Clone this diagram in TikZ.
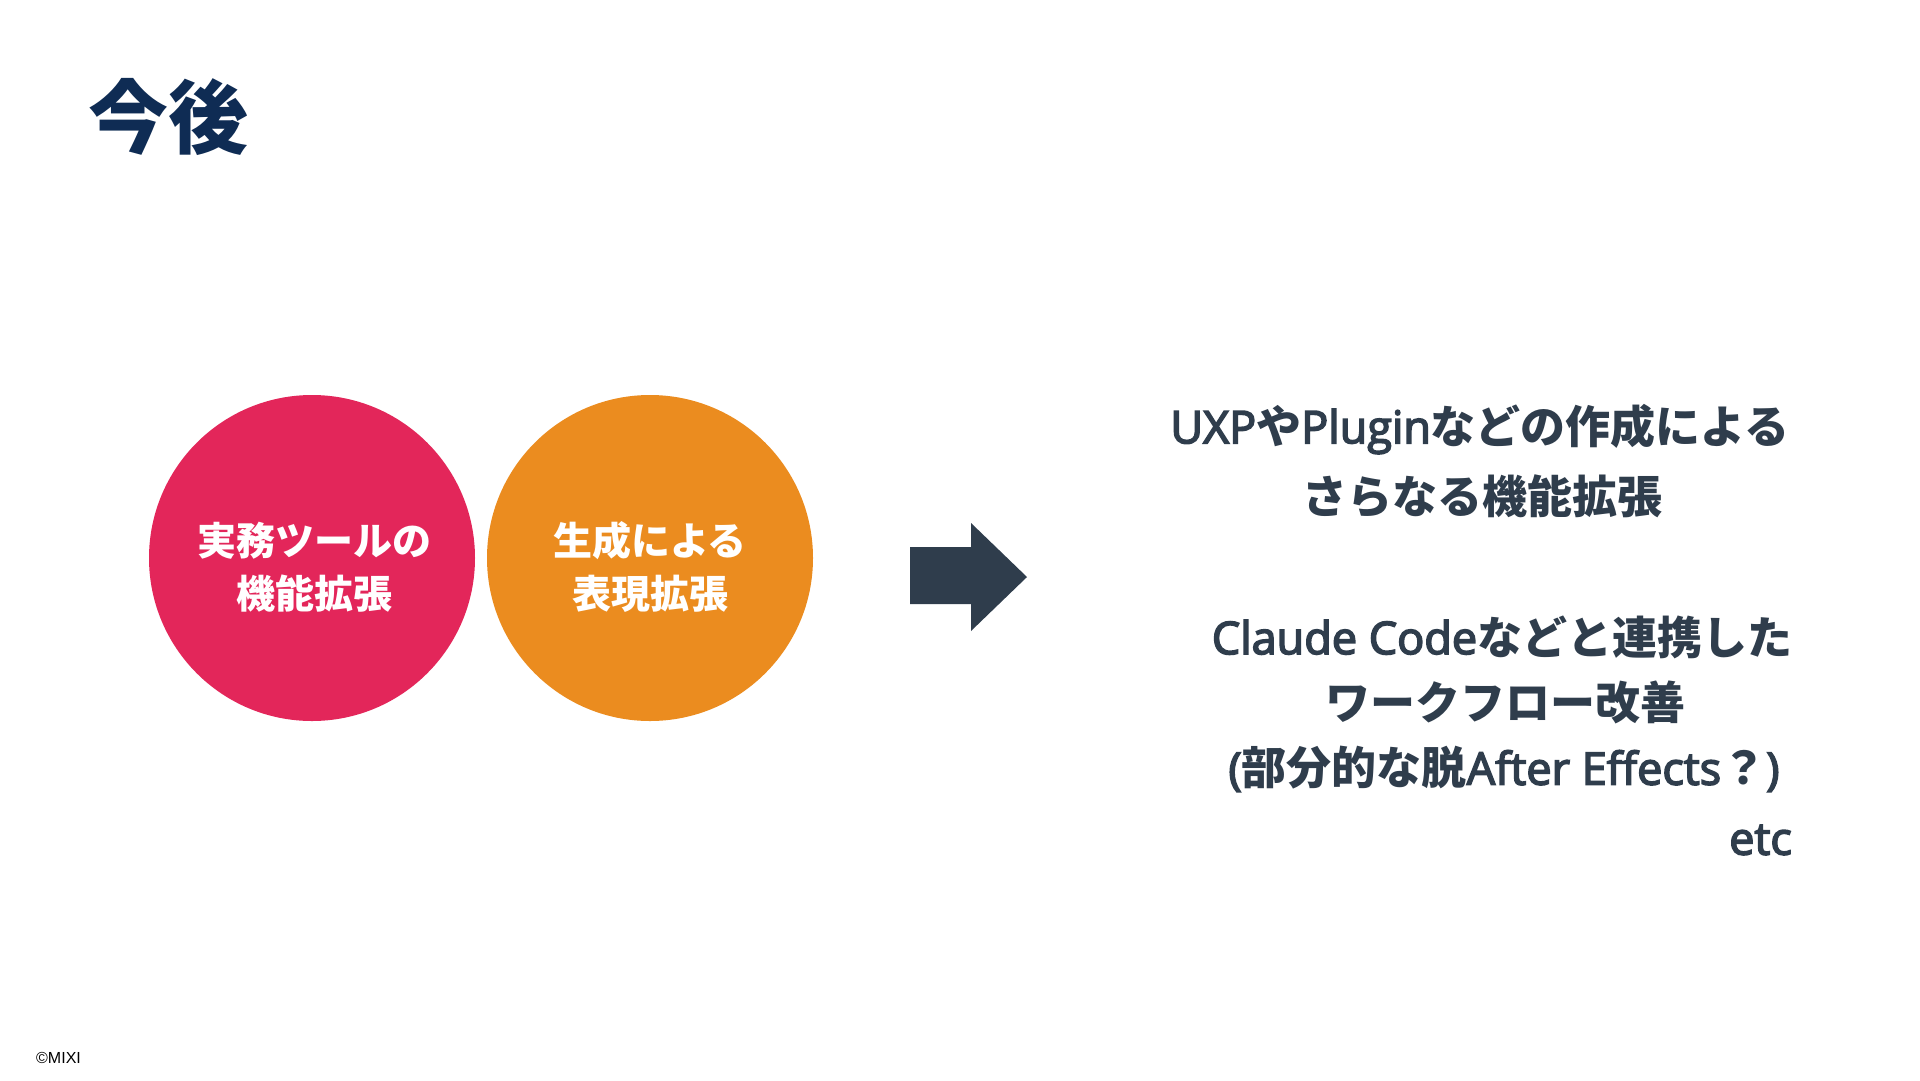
\documentclass[tikz,border=0pt]{standalone}
\usepackage{fontspec}
\setmainfont{Open Sans}
\newfontfamily\latb{Open Sans}[FakeBold=3.5]
\newfontfamily\jp{Noto Sans CJK JP}
\newfontfamily\arialish{Liberation Sans}
\newcommand\J[1]{{\jp\bfseries #1}}
\definecolor{titleblue}{HTML}{0F2C54}
\definecolor{redc}{HTML}{E3265A}
\definecolor{orangec}{HTML}{EB8C1F}
\definecolor{slate}{HTML}{2F3D4C}
\tikzset{
  bubble/.style={circle, minimum size=326pt, inner sep=0pt},
  bubtext/.style={text=white, font=\jp\bfseries\fontsize{39}{53}\selectfont, align=center},
  rtext/.style={text=slate, font=\latb\fontsize{45}{52}\selectfont, inner sep=0pt, anchor=center},
}
\begin{document}
\begin{tikzpicture}[x=1pt,y=-1pt]
\useasboundingbox[fill=white] (0,0) rectangle (1920,1080);
\node[anchor=west, inner sep=0pt, text=titleblue, font=\jp\bfseries\fontsize{80}{90}\selectfont] (title) at (88,117) {今後};
\node[bubble, fill=redc] (red) at (312,558) {};
\node[bubble, fill=orangec] (orange) at (650,558) {};
\node[bubtext] (redtxt) at (314,567) {実務ツールの\\機能拡張};
\node[bubtext] (ortxt) at (650,567) {生成による\\表現拡張};
\fill[slate] (910,547) -- (971,547) -- (971,523) -- (1027,577) -- (971,631) -- (971,604) -- (910,604) -- cycle;
\node[rtext] (l1) at (1480,429) {UXP\J{や}Plugin\J{などの作成による}};
\node[rtext] (l2) at (1482,496) {\J{さらなる機能拡張}};
\node[rtext] (l3) at (1502,637) {Claude Code\J{などと連携した}};
\node[rtext] (l4) at (1505,702) {\J{ワークフロー改善}};
\node[rtext] (l5) at (1504,769) {(\J{部分的な脱}After Effects\J{？})};
\node[rtext, anchor=east] (l6) at (1792,840) {etc};
\node[anchor=west, inner sep=0pt, font=\arialish\fontsize{16}{18}\selectfont] (copy) at (36,1058) {©MIXI};
\end{tikzpicture}
\end{document}
